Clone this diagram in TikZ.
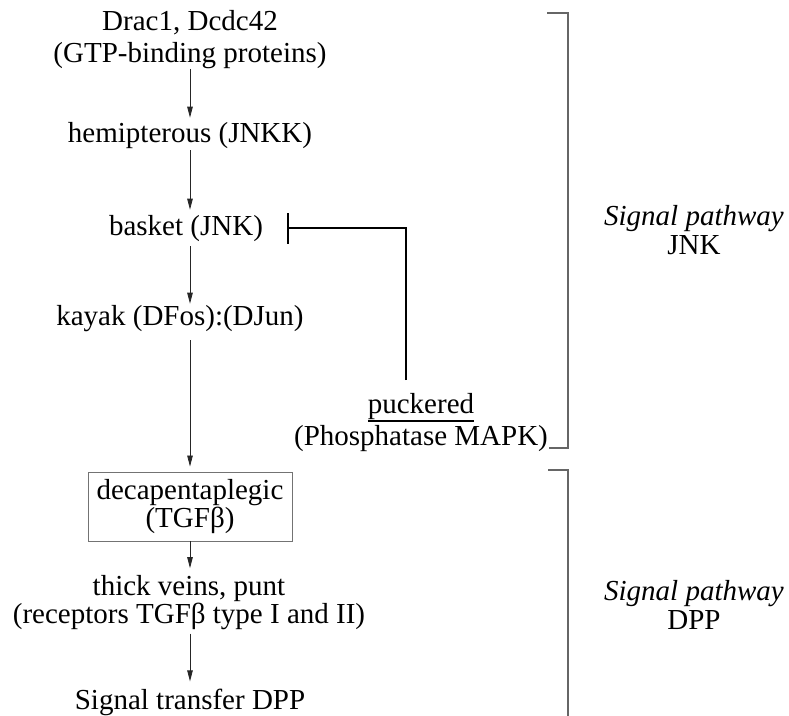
\documentclass[tikz,border=0pt]{standalone}
\usepackage{fontspec}
\setmainfont{Liberation Serif}
\usetikzlibrary{arrows.meta}
\newcommand\pucul[1]{\leavevmode\setbox0=\hbox{#1}\rlap{\raisebox{-8pt}{\rule{\wd0}{1.8pt}}}\box0}
\begin{document}
\begin{tikzpicture}[x=1pt,y=-1pt,
  lbl/.style={font=\fontsize{29}{29}\selectfont, inner sep=0pt, align=center},
  arr/.style={draw=black!85, line width=0.8pt, -{Triangle[length=11pt,width=5.5pt]}},
  brk/.style={draw=black!60, line width=1.1pt},
  inh/.style={line width=2pt, -{Bar[width=31pt,line width=2pt]}}]
\useasboundingbox (0,0) rectangle (789,715);
\coordinate (ax) at (190,0);
\node[lbl, anchor=north] (drac) at (190,10.2) {Drac1, Dcdc42\\[3pt](GTP-binding proteins)};
\node[lbl, anchor=base] (hemi) at (190,142) {hemipterous (JNKK)};
\node[lbl, anchor=base] (basket) at (186,235) {basket (JNK)};
\node[lbl, anchor=base] (kayak) at (180,325) {kayak (DFos):(DJun)};
\node[lbl, anchor=north] (puck) at (421,393.2) {\pucul{puckered}\\[3pt](Phosphatase MAPK)};
\node[lbl, draw=black!55, line width=0.9pt, minimum width=204pt, minimum height=69pt] (dpp) at (190,506.5) {decapentaplegic\\[-1pt](TGFβ)};
\node[lbl, anchor=north] (tkv) at (189,575.2) {thick veins, punt\\[-1pt](receptors TGFβ type I and II)};
\node[lbl, anchor=base] (sig) at (190,709) {Signal transfer DPP};
\node[lbl, anchor=north] (jnklab) at (694,205.2) {\textit{Signal pathway}\\JNK};
\node[lbl, anchor=north] (dpplab) at (694,580.2) {\textit{Signal pathway}\\DPP};
\draw[arr, shorten >=4pt] (ax |- drac.south) -- (ax |- hemi.north);
\draw[arr, shorten <=1.7pt, shorten >=5pt] (ax |- hemi.south) -- (ax |- basket.north);
\draw[arr, shorten <=5pt, shorten >=1pt] (ax |- basket.south) -- (ax |- kayak.north);
\draw[arr, shorten <=8.7pt, shorten >=5pt] (ax |- kayak.south) -- (ax |- dpp.north);
\draw[arr, shorten >=7pt] (ax |- dpp.south) -- (ax |- tkv.north);
\draw[arr, shorten <=3.7pt, shorten >=7pt] (ax |- tkv.south) -- (ax |- sig.north);
\draw[inh] ([xshift=-15pt,yshift=13pt]puck.north) |- ([xshift=24pt]basket.east);
\draw[brk] (547,13) -| (568,448) -- (549,448);
\draw[brk] (548,470) -| (568,715.5);
\end{tikzpicture}
\end{document}
